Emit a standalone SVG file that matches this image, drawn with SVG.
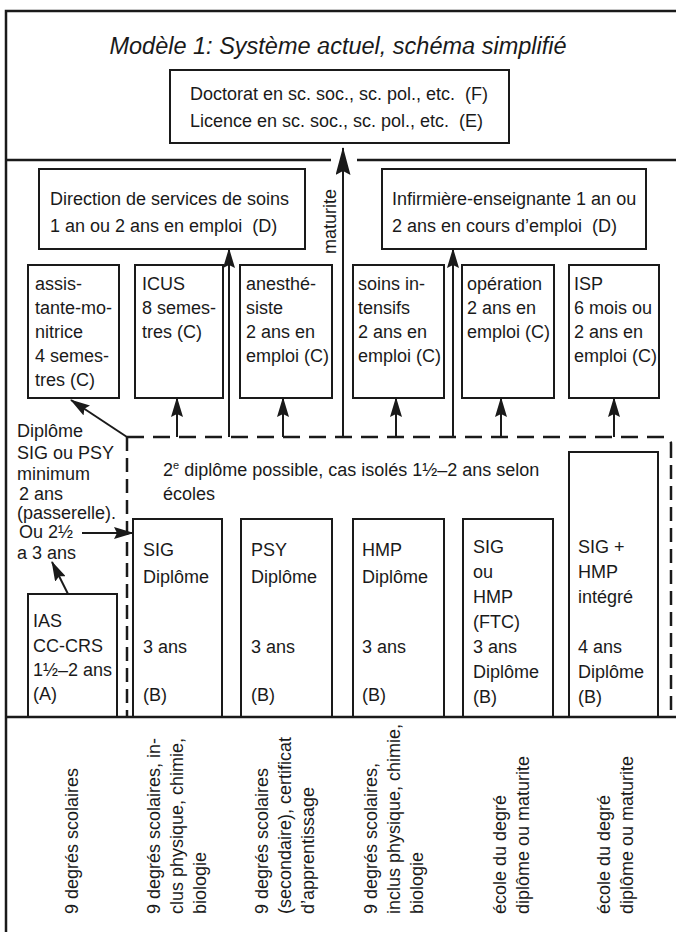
<svg xmlns="http://www.w3.org/2000/svg" width="676" height="932" viewBox="0 0 676 932">
<style>
text{font-family:"Liberation Sans",Arial,sans-serif;font-size:18px;fill:#1a1a1a}
.title{font-size:23.5px;font-style:italic}
.box{fill:none;stroke:#1a1a1a;stroke-width:2}
.frame{fill:none;stroke:#1a1a1a;stroke-width:2.5}
.ln{fill:none;stroke:#1a1a1a;stroke-width:2}
.dash{fill:none;stroke:#1a1a1a;stroke-width:2.5;stroke-dasharray:17 9}
.dashv{fill:none;stroke:#1a1a1a;stroke-width:2.5;stroke-dasharray:14 7}
.arr{marker-end:url(#ah)}
</style>
<defs>
<marker id="ah" viewBox="0 0 20 12" refX="19" refY="6" markerWidth="20" markerHeight="12" markerUnits="userSpaceOnUse" orient="auto"><path d="M0,0 L20,6 L0,12 L3,6 z" fill="#1a1a1a"/></marker>
<marker id="ahb" viewBox="0 0 28 15" refX="27" refY="7.5" markerWidth="28" markerHeight="15" markerUnits="userSpaceOnUse" orient="auto"><path d="M0,0 L28,7.5 L0,15 L4,7.5 z" fill="#1a1a1a"/></marker>
</defs>
<rect width="676" height="932" fill="#fff"/>
<g id="frame">
<path class="frame" d="M6,932 V11 H676"/>
<path class="frame" d="M6,160 H331 M357,160 H676"/>
<path class="frame" d="M6,717 H676"/>
<text class="title" x="338" y="54" text-anchor="middle">Modèle 1: Système actuel, schéma simplifié</text>
</g>
<g id="n-EF">
<rect class="box" x="170" y="70" width="339" height="73"/>
<text x="190" y="100">Doctorat en sc. soc., sc. pol., etc.&#160; (F)</text>
<text x="190" y="127">Licence en sc. soc., sc. pol., etc.&#160; (E)</text>
</g>
<g id="n-D1">
<rect class="box" x="39" y="169" width="266" height="80"/>
<text x="50" y="205">Direction de services de soins</text>
<text x="50" y="232">1 an ou 2 ans en emploi&#160; (D)</text>
</g>
<g id="n-D2">
<rect class="box" x="382" y="169" width="264" height="80"/>
<text x="392" y="205">Infirmière-enseignante 1 an ou</text>
<text x="392" y="232">2 ans en cours d’emploi&#160; (D)</text>
</g>
<g id="n-C1">
<rect class="box" x="28" y="265" width="91" height="133"/>
<text x="35" y="290">assis-</text><text x="35" y="314">tante-mo-</text><text x="35" y="338">nitrice</text><text x="35" y="362">4 semes-</text><text x="35" y="386">tres (C)</text>
</g>
<g id="n-C2">
<rect class="box" x="135" y="265" width="88" height="133"/>
<text x="142" y="290">ICUS</text><text x="142" y="314">8 semes-</text><text x="142" y="338">tres (C)</text>
</g>
<g id="n-C3">
<rect class="box" x="240" y="265" width="92" height="133"/>
<text x="246" y="290">anesthé-</text><text x="246" y="314">siste</text><text x="246" y="338">2 ans en</text><text x="246" y="362">emploi (C)</text>
</g>
<g id="n-C4">
<rect class="box" x="353" y="265" width="91" height="133"/>
<text x="358" y="290">soins in-</text><text x="358" y="314">tensifs</text><text x="358" y="338">2 ans en</text><text x="358" y="362">emploi (C)</text>
</g>
<g id="n-C5">
<rect class="box" x="462" y="265" width="92" height="133"/>
<text x="467" y="290">opération</text><text x="467" y="314">2 ans en</text><text x="467" y="338">emploi (C)</text>
</g>
<g id="n-C6">
<rect class="box" x="569" y="265" width="90" height="133"/>
<text x="574" y="290">ISP</text><text x="574" y="314">6 mois ou</text><text x="574" y="338">2 ans en</text><text x="574" y="362">emploi (C)</text>
</g>
<g id="n-passerelle">
<text x="17" y="437">Diplôme</text>
<text x="17" y="459">SIG ou PSY</text>
<text x="17" y="480">minimum</text>
<text x="19" y="500">2 ans</text>
<text x="17" y="519">(passerelle).</text>
<text x="19" y="538">Ou 2½</text>
<text x="17" y="559">a 3 ans</text>
</g>
<g id="n-note">
<text x="163" y="476">2<tspan font-size="11" dy="-7">e</tspan><tspan dy="7"> diplôme possible, cas isolés 1½–2 ans selon</tspan></text>
<text x="163" y="500">écoles</text>
</g>
<g id="n-A">
<rect class="box" x="28" y="594" width="89" height="123"/>
<text x="33" y="627">IAS</text><text x="33" y="652">CC-CRS</text><text x="33" y="676">1½–2 ans</text><text x="33" y="700">(A)</text>
</g>
<g id="n-B1">
<rect class="box" x="133" y="519" width="89" height="198"/>
<text x="143" y="556">SIG</text><text x="143" y="583">Diplôme</text><text x="143" y="653">3 ans</text><text x="143" y="701">(B)</text>
</g>
<g id="n-B2">
<rect class="box" x="241" y="519" width="91" height="198"/>
<text x="251" y="556">PSY</text><text x="251" y="583">Diplôme</text><text x="251" y="653">3 ans</text><text x="251" y="701">(B)</text>
</g>
<g id="n-B3">
<rect class="box" x="353" y="519" width="91" height="198"/>
<text x="362" y="556">HMP</text><text x="362" y="583">Diplôme</text><text x="362" y="653">3 ans</text><text x="362" y="701">(B)</text>
</g>
<g id="n-B4">
<rect class="box" x="463" y="519" width="90" height="198"/>
<text x="473" y="553">SIG</text><text x="473" y="578">ou</text><text x="473" y="603">HMP</text><text x="473" y="628">(FTC)</text><text x="473" y="653">3 ans</text><text x="473" y="678">Diplôme</text><text x="473" y="703">(B)</text>
</g>
<g id="n-B5">
<rect class="box" x="569" y="452" width="89" height="265"/>
<text x="578" y="553">SIG +</text><text x="578" y="578">HMP</text><text x="578" y="603">intégré</text><text x="578" y="653">4 ans</text><text x="578" y="678">Diplôme</text><text x="578" y="703">(B)</text>
</g>
<g id="prereq">
<text transform="translate(78,914) rotate(-90)">9 degrés scolaires</text>
<text transform="translate(160,914) rotate(-90)">9 degrés scolaires, in-</text>
<text transform="translate(183,914) rotate(-90)">clus physique, chimie,</text>
<text transform="translate(206,914) rotate(-90)">biologie</text>
<text transform="translate(268,914) rotate(-90)">9 degrés scolaires</text>
<text transform="translate(291,914) rotate(-90)">(secondaire), certificat</text>
<text transform="translate(314,914) rotate(-90)">d’apprentissage</text>
<text transform="translate(377,914) rotate(-90)">9 degrés scolaires,</text>
<text transform="translate(400,914) rotate(-90)">inclus physique, chimie,</text>
<text transform="translate(423,914) rotate(-90)">biologie</text>
<text transform="translate(506,914) rotate(-90)">école du degré</text>
<text transform="translate(529,914) rotate(-90)">diplôme ou maturite</text>
<text transform="translate(610,914) rotate(-90)">école du degré</text>
<text transform="translate(633,914) rotate(-90)">diplôme ou maturite</text>
</g>
<g id="connectors">
<path class="dash" d="M127,437 H664 Q671,437 671,444"/>
<path class="dashv" d="M127,437 V717 M671,444 V717"/>
<path class="ln arr" d="M127,437 L71,400"/>
<path class="ln arr" d="M177,437 V398"/>
<path class="ln arr" d="M229,437 V249"/>
<path class="ln arr" d="M283,437 V398"/>
<path class="ln" d="M343,437 V148" marker-end="url(#ahb)"/>
<path class="ln arr" d="M396,437 V398"/>
<path class="ln arr" d="M453,437 V249"/>
<path class="ln arr" d="M501,437 V398"/>
<path class="ln arr" d="M614,437 V398"/>
<path class="ln arr" d="M82,533 H133"/>
<path class="ln arr" d="M68,594 L52,562"/>
<text transform="translate(336,254) rotate(-90)">maturite</text>
</g>
</svg>
